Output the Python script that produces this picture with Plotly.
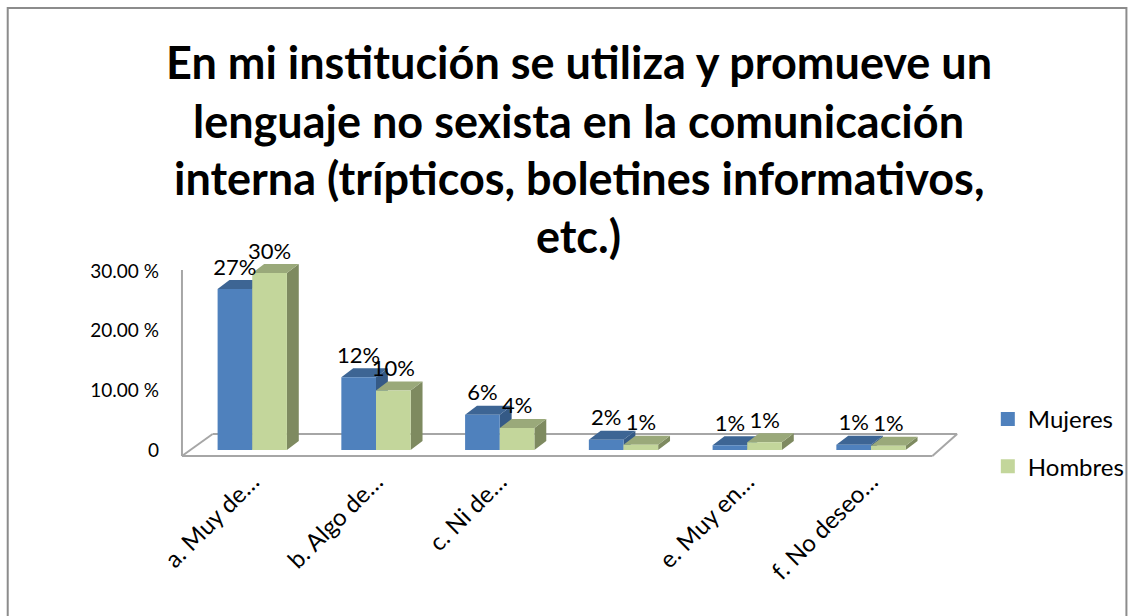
import plotly.graph_objects as go

# Values
categories = ["a. Muy de…", "b. Algo de…", "c. Ni de…", "", "e. Muy en…", "f. No deseo…"]
mujeres = [0.27, 0.122, 0.059, 0.017, 0.008, 0.009]
hombres = [0.297, 0.10, 0.037, 0.009, 0.013, 0.007]
y_ticks = [0, 0.1, 0.2, 0.3]
y_ticktext = ["0", "10.00 %", "20.00 %", "30.00 %"]
title_lines = [
    "En mi institución se utiliza y promueve un",
    "lenguaje no sexista en la comunicación",
    "interna (trípticos, boletines informativos,",
    "etc.)",
]

FONT = "Lato"
W, H = 1142, 616
L, R, T, B = 178, 164, 259, 154

# bar geometry (data units)
bw = 0.28      # width of one bar
dx = 0.096     # fake 3d depth to the right
dy = 0.0151    # fake 3d depth upwards

series = [
    ("Mujeres", mujeres, -bw, "#4F81BD", "#3D6594", "#355A86"),
    ("Hombres", hombres, 0.0, "#C3D69B", "#9AA97A", "#7E8A60"),
]


def px_x(p):
    return (p - L) / (W - L - R)


def px_y(p):
    return (H - B - p) / (H - T - B)


fig = go.Figure()

for name, vals, off, front, top, side in series:
    fx, fy, tx, ty, sx, sy = [], [], [], [], [], []
    for i, v in enumerate(vals):
        x0 = i + off
        x1 = x0 + bw
        fx += [x0, x1, x1, x0, x0, None]
        fy += [0, 0, v, v, 0, None]
        tx += [x0, x1, x1 + dx, x0 + dx, x0, None]
        ty += [v, v, v + dy, v + dy, v, None]
        sx += [x1, x1 + dx, x1 + dx, x1, x1, None]
        sy += [0, dy, v + dy, v, 0, None]
    for xs, ys, col in [(sx, sy, side), (tx, ty, top), (fx, fy, front)]:
        fig.add_trace(go.Scatter(
            x=xs, y=ys, mode="lines", fill="toself", fillcolor=col,
            line=dict(width=0), hoverinfo="skip", showlegend=False,
        ))

# data labels
for name, vals, off, front, top, side in series:
    fig.add_trace(go.Scatter(
        x=[i + off + bw / 2 for i in range(len(vals))],
        y=[v + dy for v in vals],
        mode="text",
        text=[f"{round(v * 100)}%" for v in vals],
        textposition="top center",
        textfont=dict(family=FONT, size=22, color="black"),
        cliponaxis=False, showlegend=False, hoverinfo="skip",
    ))

# legend entries
for k, (name, vals, off, front, top, side) in enumerate(series):
    fig.add_trace(go.Scatter(
        x=[None], y=[None], mode="markers", name=name, legendgroup=name,
        marker=dict(symbol="square", size=14, color=front),
    ))

# back wall / floor outline
line_col = "#A6A6A6"
outline = [
    (182, 270, 182, 456),
    (182, 456, 940, 456),
    (182, 456, 213, 434),
    (213, 434, 965, 434),
    (965, 434, 940, 456),
]
shapes = [
    dict(type="line", xref="paper", yref="paper",
         x0=px_x(a), y0=px_y(b), x1=px_x(c), y1=px_y(d),
         line=dict(color=line_col, width=2), layer="below")
    for a, b, c, d in outline
]
shapes.append(dict(type="rect", xref="paper", yref="paper",
                   x0=px_x(6), y0=px_y(8), x1=px_x(1136), y1=px_y(640),
                   line=dict(color="#8C8C8C", width=2), layer="below"))

annotations = [
    dict(text=t, xref="paper", yref="paper", x=px_x(583), y=px_y(yc),
         xanchor="center", yanchor="middle", showarrow=False,
         font=dict(family=FONT, size=45, color="black", weight="bold"))
    for t, yc in zip(title_lines, [62, 121, 178, 236])
]

fig.update_layout(
    width=W, height=H,
    margin=dict(l=L, r=R, t=T, b=B),
    paper_bgcolor="white", plot_bgcolor="white",
    font=dict(family=FONT, color="black"),
    shapes=shapes, annotations=annotations,
    showlegend=True,
    legend=dict(x=px_x(996), y=px_y(397), xanchor="left", yanchor="top",
                font=dict(family=FONT, size=24), traceorder="grouped",
                tracegroupgap=13, itemwidth=30, bgcolor="rgba(0,0,0,0)"),
    xaxis=dict(range=[-0.6, 5.8], tickvals=list(range(len(categories))),
               ticktext=categories, tickangle=-45, showgrid=False,
               zeroline=False, showline=False, ticks="",
               tickfont=dict(family=FONT, size=24)),
    yaxis=dict(range=[-(H - T - B - 191) / 596, 191 / 596], tickvals=y_ticks,
               ticktext=y_ticktext, showgrid=False, zeroline=False,
               showline=False, ticks="", ticklabelstandoff=18,
               tickfont=dict(family=FONT, size=19)),
)

fig.write_html("out.html", config={"displayModeBar": False},
               post_script="document.body.style.margin = '0';")
